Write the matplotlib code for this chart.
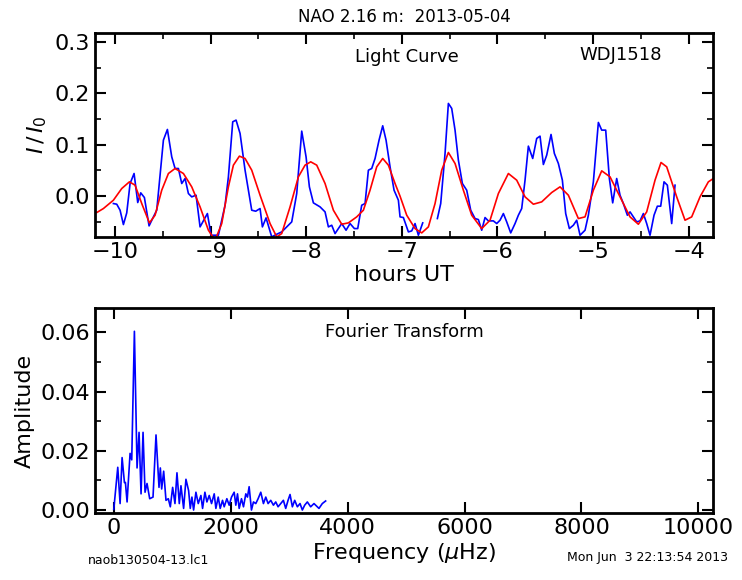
import numpy as np
import matplotlib
matplotlib.use("Agg")
import matplotlib.pyplot as plt

# Values (raw chart readings, calibrated below)
lc_read = [(70,520),(80,522),(90,540),(100,583),(110,548),(120,460),(132,430),(143,517),(152,488),(163,502),(177,587),(190,560),(200,540),(220,330),(232,298),(245,380),(255,415),(265,415),(275,460),(285,445),(295,490),(305,500),(318,495),(330,590),(340,572),(352,550),(363,615),(385,615),(405,525),(415,440),(428,275),(438,270),(450,310),(465,420),(485,540),(497,543),(510,535),(517,590),(528,563),(545,620),(560,612),(575,605),(590,590),(605,575),(620,490),(635,303),(648,380),(658,470),(670,518),(690,530),(705,545),(715,590),(725,585),(735,610),(755,580),(768,600),(780,580),(793,595),(803,595),(815,525),(825,520),(835,420),(845,415),(855,385),(867,330),(878,287),(888,330),(900,410),(912,480),(925,510)]
lc_read2 = [(0,560),(10,562),(25,605),(35,602),(45,580),(55,615),(68,578),(None,None),(112,565),(122,520),(135,370),(145,220),(155,235),(165,300),(175,390),(187,460),(200,480),(212,540),(225,565),(235,568),(245,600),(255,562),(265,572),(280,572),(290,580),(300,570),(310,550),(320,575),(332,608),(345,580),(355,555),(365,535),(375,450),(385,348),(398,385),(410,325),(420,318),(430,403),(440,375),(453,313),(463,370),(475,400),(487,450),(497,550),(508,595),(520,585),(530,570),(540,615),(555,600),(565,555),(580,455),(595,277),(605,300),(617,300),(628,445),(638,518),(650,445),(660,495),(670,520),(682,555),(690,545),(700,560),(710,575),(720,572),(730,550),(740,580),(750,615),(762,555),(772,528),(782,528),(792,455),(802,465),(815,580),(825,465)]
fit_read = [(0,540),(20,547),(40,535),(70,510),(95,475),(118,455),(135,465),(155,520),(178,578),(195,555),(215,480),(235,430),(255,415),(280,430),(305,470),(330,530),(355,600),(375,630),(395,580),(415,470),(430,405),(448,378),(465,385),(485,420),(510,495),(540,580),(560,620),(575,610),(600,530),(625,440),(645,405),(662,395),(680,405),(705,460),(730,540),(755,582),(775,578),(800,560),(820,540),(840,480),(860,410),(878,385),(895,405),(915,460)]
fit_read2 = [(0,498),(20,555),(45,595),(65,608),(85,590),(105,520),(125,420),(145,367),(165,400),(190,480),(215,555),(245,595),(270,570),(295,490),(325,430),(350,450),(375,500),(400,522),(425,515),(455,487),(480,470),(505,495),(535,565),(555,560),(580,480),(605,422),(630,440),(660,500),(690,560),(715,582),(740,545),(765,450),(783,397),(800,410),(830,500),(855,570),(875,560),(900,500),(925,455),(940,445)]
ft_read = [(68,658),(80,528),(87,640),(93,498),(100,575),(103,575),(108,635),(117,485),(122,505),(130,108),(138,530),(144,420),(150,610),(156,420),(162,605),(168,578),(176,625),(186,620),(195,428),(204,590),(208,530),(212,595),(218,540),(225,630),(232,625),(238,650),(245,590),(252,640),(258,545),(265,640),(270,585),(278,655),(285,565),(293,600),(298,655),(303,620),(308,660),(315,605),(322,640),(330,615),(335,655),(342,605),(348,635),(355,615),(362,640),(370,610),(375,655),(382,620),(388,655),(395,630),(400,650),(408,625),(415,645),(422,620),(430,605),(435,645),(440,610),(445,655),(452,625),(458,650),(465,610),(470,620),(475,588),(482,660),(488,635),(495,640),(502,625),(510,605),(518,640),(525,620),(532,640),(540,630),(548,645),(555,635),(562,650),(570,640),(578,630),(585,655),(592,630),(598,612),(605,650),(612,630),(620,650),(628,640),(635,660),(642,645),(650,635),(660,650),(670,640),(685,655),(695,640),(705,632)]

def lc_conv(pts, x0, y0):
    t, v = [], []
    for a, b in pts:
        if a is None:
            t.append(np.nan); v.append(np.nan); continue
        xp = x0 + a / 3; yp = y0 + b / 3
        t.append(-10 + (xp - 115) / 95.6); v.append((195.8 - yp) / 512)
    return t, v

t1, f1 = lc_conv(lc_read, 90, 30)
t2, f2 = lc_conv(lc_read2, 400, 30)
time = t1 + t2
flux = f1 + f2
ft1, fv1 = lc_conv(fit_read, 90, 30)
ft2, fv2 = lc_conv(fit_read2, 400, 30)
fit_t = ft1 + ft2
fit_v = fv1 + fv2
freq = [(90 + a / 3 - 112.6) / 0.0586 for a, b in ft_read]
amp = [(510 - (290 + b / 3)) / 3050 for a, b in ft_read]

fig = plt.figure(figsize=(7.42, 5.80), dpi=100)
ax1 = fig.add_axes([95/742, 1-237/580, 618/742, 204/580])
ax2 = fig.add_axes([95/742, 1-513/580, 618/742, 205/580])

ax1.plot(time, flux, color='blue', lw=1.2)
ax1.plot(fit_t, fit_v, color='red', lw=1.2)
ax1.set_xticks([-10, -9, -8, -7, -6, -5, -4])
ax1.set_yticks([0.0, 0.1, 0.2, 0.3])
ax1.set_yticks(np.arange(-0.05, 0.32, 0.05), minor=True)
ax1.set_xticks(np.arange(-10.0, -3.9, 0.5), minor=True)
ax1.set_xlim(-10.21, -3.745)
ax1.set_ylim(-0.080, 0.318)
ax1.set_xlabel('hours UT', fontsize=16, labelpad=2)
ax1.set_ylabel(r'$I\,/\,I_0$', fontsize=16)
ax1.text(0.505, 0.86, 'Light Curve', transform=ax1.transAxes, ha='center', fontsize=13)
ax1.text(0.85, 0.87, 'WDJ1518', transform=ax1.transAxes, ha='center', fontsize=13)

ax2.plot(freq, amp, color='blue', lw=1.2)
ax2.set_xticks([0, 2000, 4000, 6000, 8000, 10000])
ax2.set_yticks([0.0, 0.02, 0.04, 0.06])
ax2.set_yticks(np.arange(0, 0.068, 0.01), minor=True)
ax2.set_xlim(-320, 10250)
ax2.set_ylim(-0.001, 0.0682)
ax2.set_xlabel(r'Frequency ($\mu$Hz)', fontsize=16, labelpad=2)
ax2.set_ylabel('Amplitude', fontsize=16)
ax2.text(0.5, 0.86, 'Fourier Transform', transform=ax2.transAxes, ha='center', fontsize=13)

for ax in (ax1, ax2):
    ax.tick_params(which='both', direction='in', top=True, right=True, labelsize=16)
    ax.tick_params(which='major', length=8, width=1.5)
    ax.tick_params(which='minor', length=4, width=1.2)
    for s in ax.spines.values():
        s.set_linewidth(2)

fig.text(0.545, 1-17/580, 'NAO 2.16 m:  2013-05-04', ha='center', va='center', fontsize=12)
fig.text(88/742, 1-560/580, 'naob130504-13.lc1', ha='left', va='center', fontsize=9)
fig.text(728/742, 1-557/580, 'Mon Jun  3 22:13:54 2013', ha='right', va='center', fontsize=9)
fig.savefig('out.png', dpi=100)
